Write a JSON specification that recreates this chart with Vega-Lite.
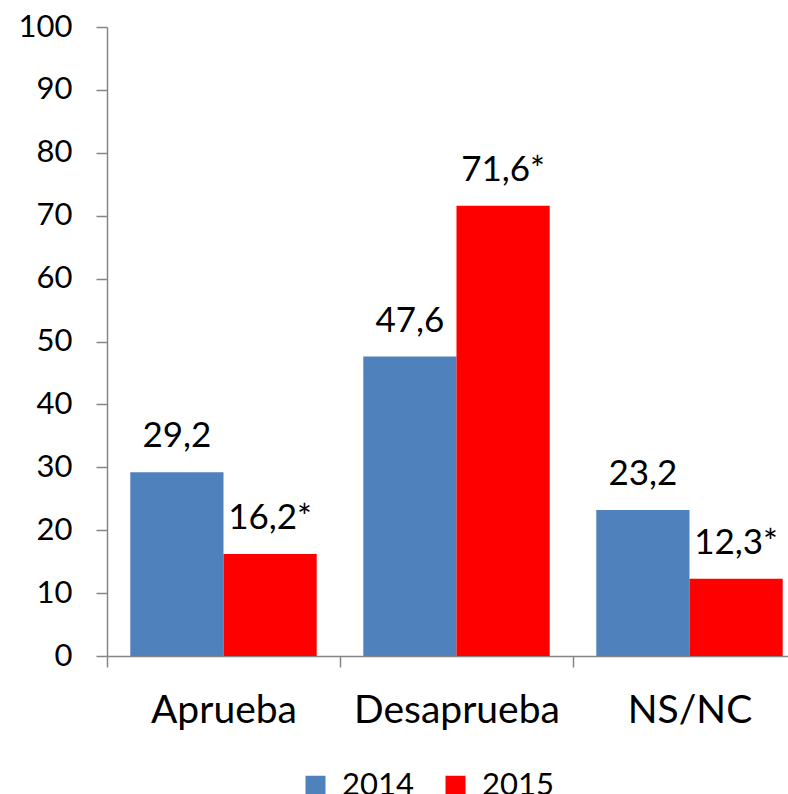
{
  "$schema": "https://vega.github.io/schema/vega-lite/v6.json",
  "autosize": {"type": "none"},
  "padding": {"left": 107, "top": 27, "right": 0, "bottom": 138},
  "width": 699,
  "height": 629,
  "background": "white",
  "config": {
    "view": {"stroke": null},
    "font": "Lato",
    "axis": {"labelFont": "Lato", "labelColor": "black", "domainColor": "#868686", "tickColor": "#868686", "domainWidth": 1.5, "tickWidth": 1.5, "grid": false, "title": null},
    "legend": {"labelFont": "Lato"}
  },
  "data": {
    "values": [
      {"categoria": "Aprueba", "anio": "2014", "valor": 29.2, "etiqueta": "29,2"},
      {"categoria": "Aprueba", "anio": "2015", "valor": 16.2, "etiqueta": "16,2*"},
      {"categoria": "Desaprueba", "anio": "2014", "valor": 47.6, "etiqueta": "47,6"},
      {"categoria": "Desaprueba", "anio": "2015", "valor": 71.6, "etiqueta": "71,6*"},
      {"categoria": "NS/NC", "anio": "2014", "valor": 23.2, "etiqueta": "23,2"},
      {"categoria": "NS/NC", "anio": "2015", "valor": 12.3, "etiqueta": "12,3*"}
    ]
  },
  "encoding": {
    "x": {
      "field": "categoria", "type": "nominal", "sort": ["Aprueba", "Desaprueba", "NS/NC"],
      "scale": {"paddingInner": 0, "paddingOuter": 0},
      "axis": {"labelAngle": 0, "labelFontSize": 39, "labelPadding": 24, "labelLimit": 0, "tickBand": "extent", "tickSize": 11}
    },
    "xOffset": {"field": "anio", "type": "nominal", "scale": {"paddingInner": 0, "paddingOuter": 0.25}},
    "y": {
      "field": "valor", "type": "quantitative",
      "scale": {"domain": [0, 100], "nice": false},
      "axis": {"values": [0, 10, 20, 30, 40, 50, 60, 70, 80, 90, 100], "labelFontSize": 31, "labelPadding": 24, "tickSize": 11}
    }
  },
  "layer": [
    {
      "mark": {"type": "bar"},
      "encoding": {
        "color": {
          "field": "anio", "type": "nominal",
          "scale": {"domain": ["2014", "2015"], "range": ["#4F81BD", "#FF0000"]},
          "legend": {
            "title": null, "orient": "none", "direction": "horizontal",
            "legendX": 193, "legendY": 743,
            "symbolType": "square", "symbolSize": 400, "symbolStrokeWidth": 0,
            "labelFontSize": 31, "labelOffset": 11, "columnPadding": 26, "labelColor": "black"
          }
        }
      }
    },
    {
      "mark": {"type": "text", "fontSize": 35, "baseline": "alphabetic", "dy": -25, "color": "black"},
      "encoding": {"text": {"field": "etiqueta"}}
    }
  ]
}
